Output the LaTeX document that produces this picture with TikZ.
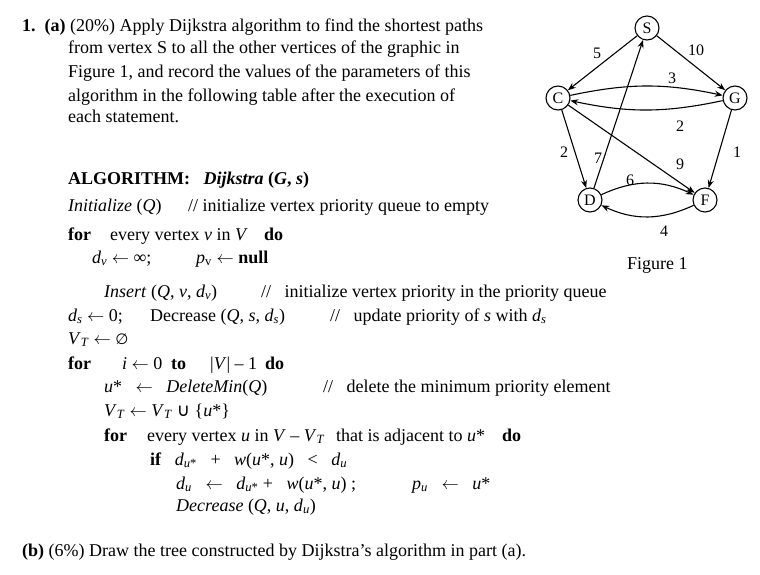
\documentclass[tikz,border=0pt]{standalone}
\usepackage{fontspec}
\setmainfont{Liberation Serif}
\newfontfamily\symf{DejaVu Sans}
\usetikzlibrary{arrows.meta}
\newcommand{\sub}[1]{\textsubscript{#1}}
\newcommand{\la}{\ensuremath{\leftarrow}}
\begin{document}
\begin{tikzpicture}[x=1pt,y=-1pt,
  t/.style={anchor=base west,inner sep=0pt,font=\fontsize{18}{21}\selectfont},
  v/.style={circle,draw,line width=1.1pt,minimum size=24pt,inner sep=0pt,font=\fontsize{16}{18}\selectfont},
  e/.style={line width=1.1pt,-{Stealth[length=8pt,width=6pt]}},
  w/.style={font=\fontsize{16}{18}\selectfont,inner sep=1pt}]
\useasboundingbox (0,0) rectangle (760,574);
% text
\node[t] (l1) at (22,31) {\textbf{1.}\ \ \textbf{(a)} (20\%) Apply Dijkstra algorithm to find the shortest paths};
\node[t] (l2) at (68,53) {from vertex S to all the other vertices of the graphic in};
\node[t] (l3) at (68,77) {Figure 1, and record the values of the parameters of this};
\node[t] (l4) at (68,101) {algorithm in the following table after the execution of};
\node[t] (l5) at (68,122) {each statement.};
\node[t] (a1) at (68,184) {\textbf{ALGORITHM:}\ \ \ \textbf{\textit{Dijkstra}} \textbf{(\textit{G}, \textit{s})}};
\node[t] (a2) at (68,211) {\textit{Initialize} (\textit{Q})};
\node[t] (a2c) at (188,211) {// initialize vertex priority queue to empty};
\node[t] (a3) at (68,240) {\textbf{for}};
\node[t] (a3b) at (110,240) {every vertex \textit{v} in \textit{V}};
\node[t] (a3c) at (264,240) {\textbf{do}};
\node[t] (a4) at (92,263) {\textit{d}\sub{\textit{v}} \la\ ∞;};
\node[t] (a4b) at (196,263) {\textit{p}\sub{v} \la\ \textbf{null}};
\node[t] (a5) at (104,297) {\textit{Insert} (\textit{Q}, \textit{v}, \textit{d}\sub{\textit{v}})};
\node[t] (a5b) at (261,297) {//\ \ \ initialize vertex priority in the priority queue};
\node[t] (a6) at (68,321) {\textit{d}\sub{\textit{s}} \la\ 0;};
\node[t] (a6b) at (150,321) {Decrease (\textit{Q}, \textit{s}, \textit{d}\sub{\textit{s}})};
\node[t] (a6c) at (330,321) {//\ \ \ update priority of \textit{s} with \textit{d}\sub{\textit{s}}};
\node[t] (a7) at (68,344) {\textit{V}\sub{\textit{T}} \la\ {\symf\fontsize{15}{18}\selectfont ∅}};
\node[t] (a8) at (68,369) {\textbf{for}};
\node[t] (a8b) at (122,369) {\textit{i} \la\ 0};
\node[t] (a8c) at (171,369) {\textbf{to}};
\node[t] (a8d) at (210,369) {|\textit{V}| -- 1};
\node[t] (a8e) at (265,369) {\textbf{do}};
\node[t] (a9) at (104,392) {\textit{u}*\ \ \ \la\ \ \ \textit{DeleteMin}(\textit{Q})};
\node[t] (a9b) at (323,392) {//\ \ \ delete the minimum priority element};
\node[t] (a10) at (104,416) {\textit{V}\sub{\textit{T}} \la\ \textit{V}\sub{\textit{T}} {\symf ∪} \{\textit{u}*\}};
\node[t] (a11) at (104,441) {\textbf{for}};
\node[t] (a11b) at (147,441) {every vertex \textit{u} in \textit{V} -- \textit{V}\sub{\textit{T}}};
\node[t] (a11c) at (336,441) {that is adjacent to \textit{u}*};
\node[t] (a11d) at (502,441) {\textbf{do}};
\node[t] (a12) at (150,465) {\textbf{if}\ \ \ \textit{d}\sub{\textit{u}*}\ \ \ +\ \ \ \textit{w}(\textit{u}*, \textit{u})\ \ \ <\ \ \ \textit{d}\sub{\textit{u}}};
\node[t] (a13) at (176,489) {\textit{d}\sub{\textit{u}}\ \ \ \la\ \ \ \textit{d}\sub{\textit{u}*} +\ \ \ \textit{w}(\textit{u}*, \textit{u}) ;};
\node[t] (a13b) at (412,489) {\textit{p}\sub{\textit{u}}\ \ \ \la\ \ \ \textit{u}*};
\node[t] (a14) at (176,511) {\textit{Decrease} (\textit{Q}, \textit{u}, \textit{d}\sub{\textit{u}})};
\node[t] (b1) at (22,556) {\textbf{(b)} (6\%) Draw the tree constructed by Dijkstra's algorithm in part (a).};
% graph
\node[v] (S) at (647,28) {S};
\node[v] (C) at (558,98) {C};
\node[v] (G) at (735,98) {G};
\node[v] (D) at (590,200) {D};
\node[v] (F) at (705,200) {F};
\draw[e] (S) -- (C);
\draw[e] (S) -- (G);
\draw[e] (C) to[bend left=12] (G);
\draw[e] (G) to[bend left=12] (C);
\draw[e] (C) -- (D);
\draw[e] (D) -- (S);
\draw[e] (C) -- (F);
\draw[e] (G) -- (F);
\draw[e] (D) to[bend left=25] (F);
\draw[e] (F) to[bend left=25] (D);
\node[w] (w1) at (597,53) {5};
\node[w] (w2) at (696,50) {10};
\node[w] (w3) at (672,78) {3};
\node[w] (w4) at (680,126) {2};
\node[w] (w5) at (564,152) {2};
\node[w] (w6) at (598,158) {7};
\node[w] (w7) at (680,164) {9};
\node[w] (w8) at (737,152) {1};
\node[w] (w9) at (630,180) {6};
\node[w] (w10) at (664,231) {4};
\node[t] (fig) at (627,269) {Figure 1};
\end{tikzpicture}
\end{document}
